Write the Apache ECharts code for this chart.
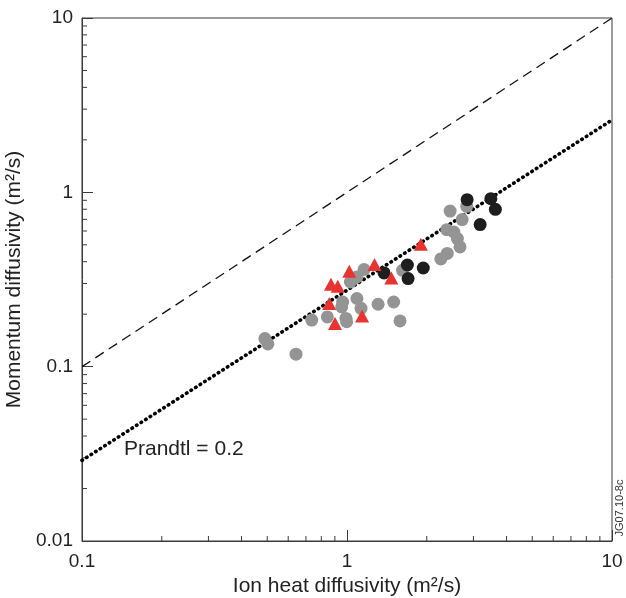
<!DOCTYPE html>
<html>
<head>
<meta charset="utf-8">
<script src="https://cdn.jsdelivr.net/npm/echarts@6/dist/echarts.min.js"></script>
<style>html,body{margin:0;padding:0;background:#fff}#c{width:626px;height:598px}</style>
</head>
<body>
<div id="c"></div>
<script>
// Data (x: ion heat diffusivity, y: momentum diffusivity), m^2/s
const blackPoints = [
  [2.84, 0.908], [3.49, 0.920], [3.63, 0.799], [3.18, 0.653],
  [1.69, 0.383], [1.94, 0.368], [1.70, 0.320], [1.38, 0.345]
];
const grayPoints = [
  [2.45, 0.781], [2.83, 0.831], [2.72, 0.698], [2.38, 0.611], [2.53, 0.592],
  [2.61, 0.543], [2.67, 0.486], [2.39, 0.446], [2.26, 0.415], [1.62, 0.357],
  [1.16, 0.361], [1.09, 0.327], [1.03, 0.306], [0.963, 0.235], [0.955, 0.220],
  [1.09, 0.246], [1.13, 0.216], [1.31, 0.228], [1.50, 0.235], [0.843, 0.193],
  [0.991, 0.189], [0.997, 0.181], [0.736, 0.185], [1.585, 0.183], [0.490, 0.145],
  [0.503, 0.135], [0.642, 0.118]
];
const redTriangles = [
  [1.90, 0.504], [1.27, 0.385], [1.02, 0.353], [0.870, 0.297], [0.923, 0.289],
  [1.47, 0.323], [0.857, 0.230], [0.901, 0.177], [1.14, 0.195]
];
const unityLine = [[0.1, 0.1], [10, 10]];
const prandtlLine = [[0.1, 0.029], [10, 2.6]];
const xTickLabels = ['0.1', '1', '10'];
const yTickLabels = ['0.01', '0.1', '1', '10'];
const minorMultipliers = [2, 3, 4, 5, 6, 7, 8, 9];
const xDecades = [0.1, 1];
const yDecades = [0.01, 0.1, 1];

const xMinor = [];
xDecades.forEach(d => minorMultipliers.forEach(m => xMinor.push([+(d * m).toPrecision(3), 0.01])));
const yMinor = [];
yDecades.forEach(d => minorMultipliers.forEach(m => yMinor.push([0.1, +(d * m).toPrecision(3)])));

const FONT = '"Liberation Sans", Arial, Helvetica, sans-serif';
const AX = '#3a3a3a';
const TXT = '#222';

function tickRenderer(dir) {
  return function (params, api) {
    const p = api.coord([api.value(0), api.value(1)]);
    const len = 5;
    const shape = dir === 'x'
      ? { x1: p[0], y1: p[1], x2: p[0], y2: p[1] - len }
      : { x1: p[0], y1: p[1], x2: p[0] + len, y2: p[1] };
    return { type: 'line', shape: shape, style: { stroke: AX, lineWidth: 1 } };
  };
}

const chart = echarts.init(document.getElementById('c'), null, { renderer: 'canvas' });
chart.setOption({
  animation: false,
  backgroundColor: '#fff',
  textStyle: { fontFamily: FONT },
  grid: { left: 82, right: 14, top: 18, bottom: 57, containLabel: false, outerBoundsMode: 'none',
    show: true, borderColor: AX, borderWidth: 1, backgroundColor: 'transparent' },
  xAxis: {
    type: 'log', logBase: 10, min: 0.1, max: 10,
    name: 'Ion heat diffusivity (m²/s)', nameLocation: 'middle', nameGap: 32,
    nameTextStyle: { fontSize: 21, color: TXT, fontFamily: FONT },
    axisLine: { lineStyle: { color: AX, width: 1 } },
    axisTick: { inside: true, length: 11, lineStyle: { color: AX } },
    splitLine: { show: false },
    axisLabel: { fontSize: 19, color: TXT, margin: 11, fontFamily: FONT,
      formatter: v => xTickLabels.find(t => Math.abs(parseFloat(t) - v) < 1e-9 * Math.max(1, v)) || '' }
  },
  yAxis: {
    type: 'log', logBase: 10, min: 0.01, max: 10,
    name: 'Momentum diffusivity (m²/s)', nameLocation: 'middle', nameGap: 42,
    nameTextStyle: { fontSize: 21, color: TXT, fontFamily: FONT },
    axisLine: { lineStyle: { color: AX, width: 1 } },
    axisTick: { inside: true, length: 11, lineStyle: { color: AX } },
    splitLine: { show: false },
    axisLabel: { fontSize: 19, color: TXT, margin: 9, fontFamily: FONT,
      formatter: v => yTickLabels.find(t => Math.abs(parseFloat(t) - v) < 1e-6 * Math.max(0.01, v)) || '' }
  },
  series: [
    { type: 'custom', renderItem: tickRenderer('x'), data: xMinor, silent: true, z: 1 },
    { type: 'custom', renderItem: tickRenderer('y'), data: yMinor, silent: true, z: 1 },
    { type: 'line', data: unityLine, symbol: 'none', silent: true, z: 2,
      lineStyle: { color: '#111', width: 1.3, type: [10, 6] } },
    { type: 'line', data: prandtlLine, symbol: 'none', silent: true, z: 2,
      lineStyle: { color: '#000', width: 3.6, type: [0.5, 4.9], cap: 'round' } },
    { type: 'scatter', data: grayPoints, symbol: 'circle', symbolSize: 13, z: 3,
      itemStyle: { color: '#949494', opacity: 1 } },
    { type: 'scatter', data: blackPoints, symbol: 'circle', symbolSize: 13, z: 4,
      itemStyle: { color: '#1e1e1e', opacity: 1 } },
    { type: 'scatter', data: redTriangles, symbol: 'triangle', symbolSize: [14, 13], z: 5,
      itemStyle: { color: '#e8332f', opacity: 1 } }
  ],
  graphic: [
    { type: 'text', left: 124, top: 439, style: { text: 'Prandtl = 0.2', font: '21px ' + FONT, fill: TXT } },
    { type: 'text', x: 620, y: 508, rotation: Math.PI / 2,
      style: { text: 'JG07.10-8c', font: '11px ' + FONT, fill: '#333', align: 'center', verticalAlign: 'middle' } }
  ]
});
</script>
</body>
</html>
